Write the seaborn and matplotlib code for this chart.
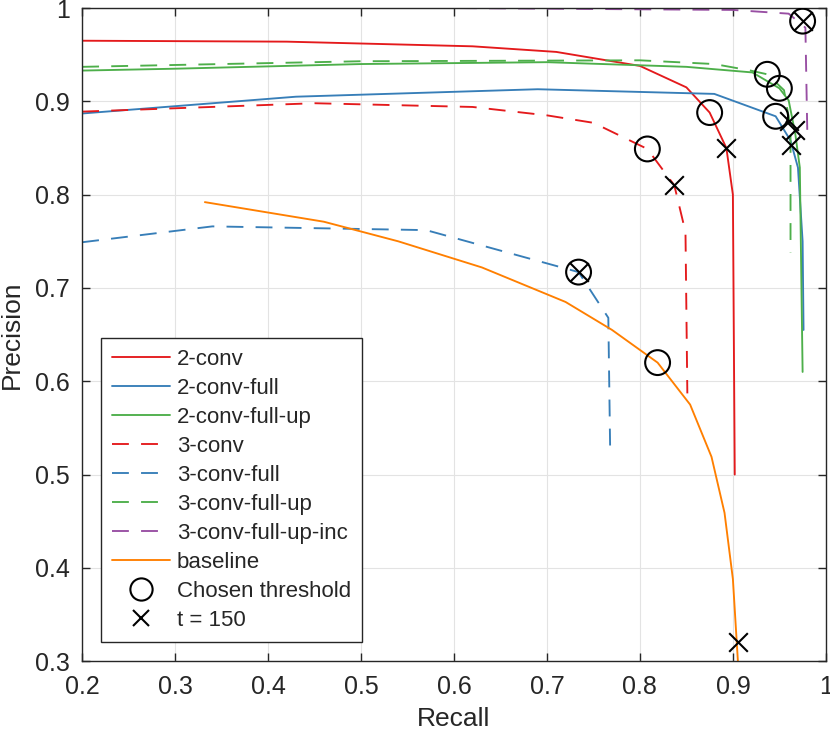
import matplotlib
matplotlib.use("Agg")
import matplotlib.pyplot as plt
from matplotlib.lines import Line2D
from matplotlib.ticker import FuncFormatter
import seaborn as sns
import pandas as pd

sns.set_style("whitegrid")
plt.rcParams["font.family"] = ["Liberation Sans", "DejaVu Sans"]

# precision / recall curves
series_names = ["2-conv", "2-conv-full", "2-conv-full-up", "3-conv", "3-conv-full",
                "3-conv-full-up", "3-conv-full-up-inc", "baseline"]

recall_2conv = [0.2, 0.42, 0.62, 0.71, 0.80, 0.85, 0.875, 0.893, 0.90, 0.902]
prec_2conv = [0.965, 0.964, 0.959, 0.953, 0.938, 0.915, 0.888, 0.85, 0.80, 0.50]

recall_2conv_full = [0.2, 0.43, 0.69, 0.88, 0.946, 0.962, 0.970, 0.975, 0.976]
prec_2conv_full = [0.887, 0.905, 0.913, 0.908, 0.884, 0.858, 0.829, 0.75, 0.655]

recall_2conv_full_up = [0.2, 0.3, 0.5, 0.7, 0.85, 0.921, 0.950, 0.960, 0.967, 0.972, 0.975]
prec_2conv_full_up = [0.933, 0.935, 0.940, 0.942, 0.937, 0.931, 0.914, 0.901, 0.866, 0.829, 0.61]

recall_3conv = [0.2, 0.45, 0.62, 0.70, 0.750, 0.808, 0.837, 0.849, 0.851]
prec_3conv = [0.889, 0.898, 0.894, 0.885, 0.877, 0.849, 0.810, 0.760, 0.587]

recall_3conv_full = [0.2, 0.34, 0.57, 0.734, 0.766, 0.768]
prec_3conv_full = [0.749, 0.766, 0.762, 0.717, 0.668, 0.525]

recall_3conv_full_up = [0.2, 0.5, 0.8, 0.88, 0.919, 0.937, 0.955, 0.962, 0.962]
prec_3conv_full_up = [0.937, 0.943, 0.944, 0.940, 0.933, 0.929, 0.912, 0.872, 0.738]

recall_3conv_full_up_inc = [0.2, 0.6, 0.9, 0.96, 0.978, 0.980]
prec_3conv_full_up_inc = [1.0, 1.0, 0.998, 0.994, 0.979, 0.869]

recall_baseline = [0.332, 0.46, 0.54, 0.63, 0.72, 0.77, 0.819, 0.854, 0.877, 0.891, 0.90, 0.906]
prec_baseline = [0.792, 0.771, 0.750, 0.722, 0.685, 0.655, 0.620, 0.575, 0.519, 0.459, 0.388, 0.29]

# chosen threshold points (circles)
chosen_recall = [0.875, 0.946, 0.950, 0.808, 0.734, 0.937, 0.975, 0.819]
chosen_prec = [0.888, 0.884, 0.914, 0.849, 0.717, 0.929, 0.986, 0.620]

# t = 150 points (crosses)
t150_recall = [0.893, 0.962, 0.967, 0.837, 0.734, 0.960, 0.975, 0.905]
t150_prec = [0.850, 0.853, 0.869, 0.810, 0.717, 0.879, 0.986, 0.321]

curves = [
    (recall_2conv, prec_2conv),
    (recall_2conv_full, prec_2conv_full),
    (recall_2conv_full_up, prec_2conv_full_up),
    (recall_3conv, prec_3conv),
    (recall_3conv_full, prec_3conv_full),
    (recall_3conv_full_up, prec_3conv_full_up),
    (recall_3conv_full_up_inc, prec_3conv_full_up_inc),
    (recall_baseline, prec_baseline),
]

pal = sns.color_palette("Set1")
colors = [pal[0], pal[1], pal[2], pal[0], pal[1], pal[2], pal[3], pal[4]]
dashed = [False, False, False, True, True, True, True, False]
DASH = (9, 6.5)
LW = 1.35

fig = plt.figure(figsize=(8.3, 7.33), dpi=100)
ax = fig.add_axes([0.099, 0.098, 0.896, 0.891])

handles = []
for name, (rx, py), c, d in zip(series_names, curves, colors, dashed):
    df = pd.DataFrame({"recall": rx, "precision": py})
    sns.lineplot(data=df, x="recall", y="precision", ax=ax, color=c, lw=LW,
                 sort=False, estimator=None)
    line = ax.lines[-1]
    if d:
        line.set_dashes(DASH)
    handles.append(Line2D([], [], color=c, lw=LW, dashes=DASH if d else (None, None),
                          label=name))

sns.scatterplot(x=chosen_recall, y=chosen_prec, ax=ax, marker="o", s=320,
                facecolors="none", edgecolor="black", linewidth=1.5, zorder=5)
sns.scatterplot(x=t150_recall, y=t150_prec, ax=ax, marker="x", s=180,
                color="black", linewidth=1.5, zorder=5)

handles.append(Line2D([], [], ls="none", marker="o", ms=16, mfc="none", mec="black",
                      mew=1.5, label="Chosen threshold"))
handles.append(Line2D([], [], ls="none", marker="x", ms=12, color="black",
                      mew=1.5, label="t = 150"))

ax.set_xlim(0.2, 1)
ax.set_ylim(0.3, 1)
ax.set_xticks([0.2, 0.3, 0.4, 0.5, 0.6, 0.7, 0.8, 0.9, 1.0])
ax.set_yticks([0.3, 0.4, 0.5, 0.6, 0.7, 0.8, 0.9, 1.0])
fmt = FuncFormatter(lambda v, p: f"{v:g}")
ax.xaxis.set_major_formatter(fmt)
ax.yaxis.set_major_formatter(fmt)
ax.set_xlabel("Recall", fontsize=19, color="#262626", labelpad=6)
ax.set_ylabel("Precision", fontsize=19, color="#262626", labelpad=8)
ax.tick_params(direction="in", length=6, width=1, labelsize=18, colors="#262626",
               top=True, right=True, bottom=True, left=True)
ax.tick_params(axis="x", pad=10)
ax.tick_params(axis="y", pad=9)
ax.grid(True, color="#e3e3e3", lw=0.8)
for s in ax.spines.values():
    s.set_color("#262626")
    s.set_linewidth(1)
    s.set_visible(True)

leg = ax.legend(handles=handles, loc="lower left", fontsize=16, handlelength=2.6,
                frameon=True, fancybox=False, framealpha=1, edgecolor="#262626",
                borderaxespad=0, borderpad=0.5, labelspacing=0.36, handletextpad=0.3,
                bbox_to_anchor=(0.0255, 0.029))
leg.get_frame().set_linewidth(1)

fig.savefig("out.png", dpi=100)
